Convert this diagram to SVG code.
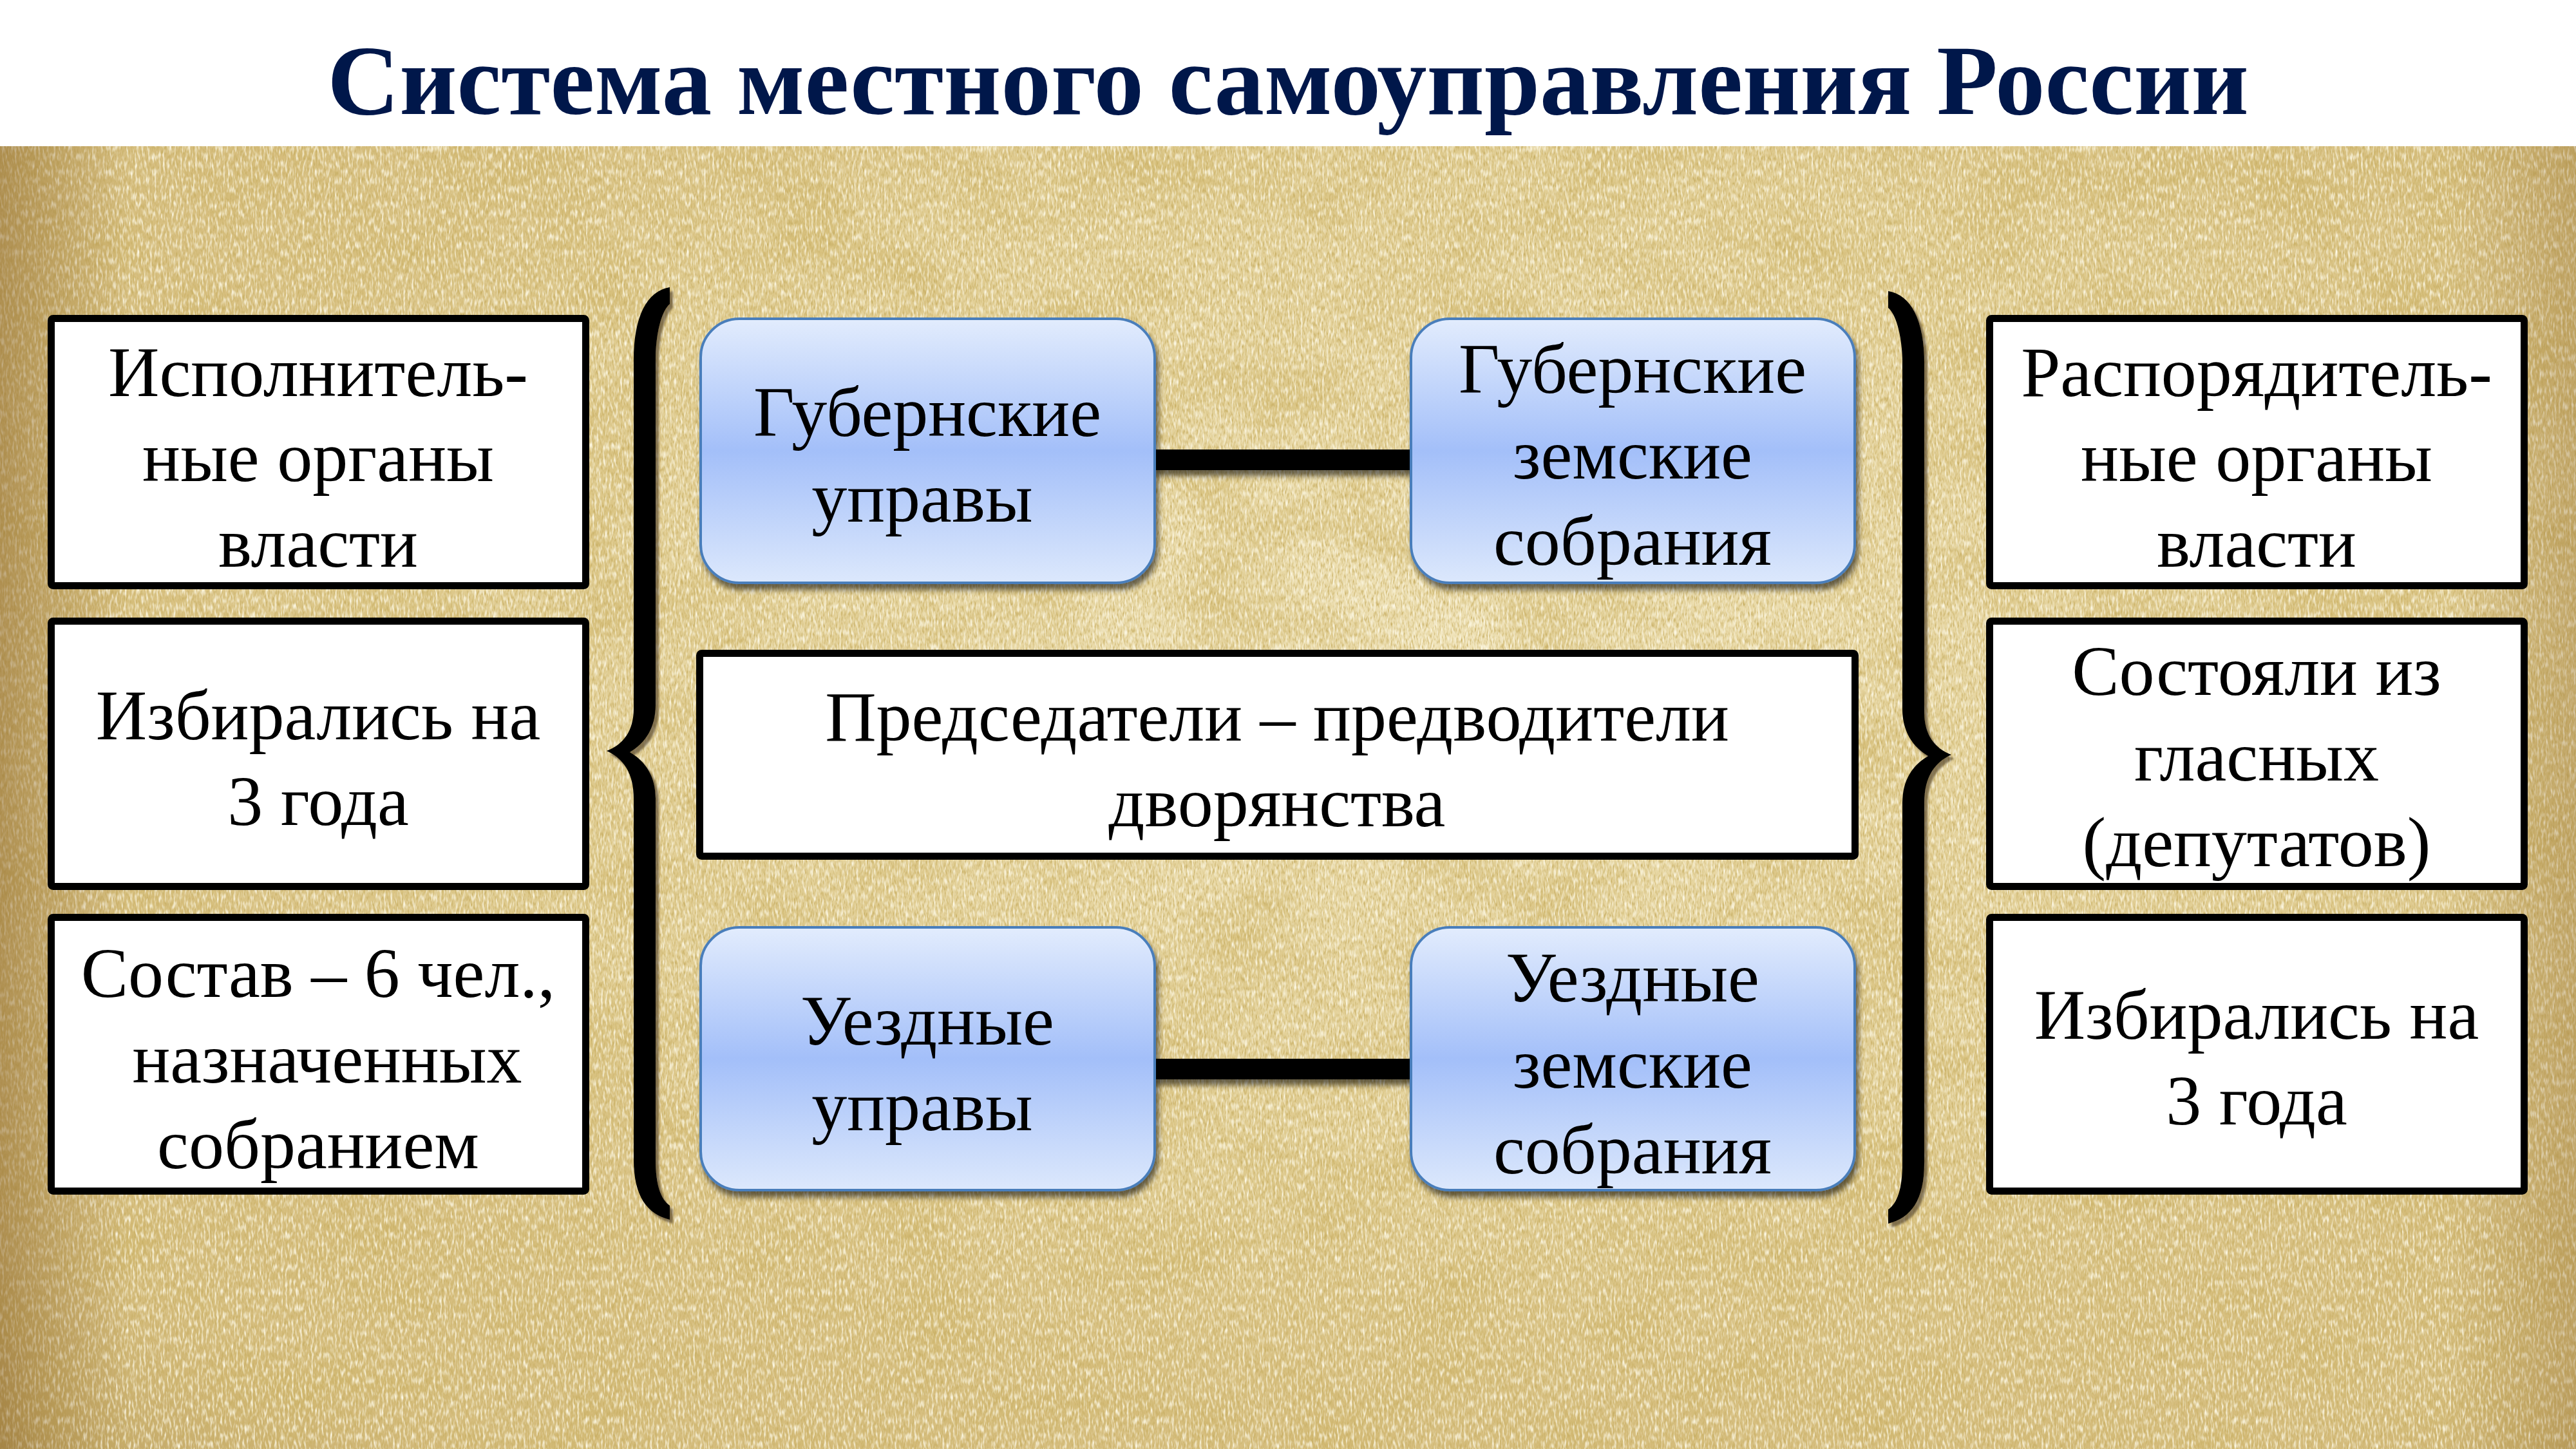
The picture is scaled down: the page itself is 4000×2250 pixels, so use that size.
<svg xmlns="http://www.w3.org/2000/svg" width="4000" height="2250" viewBox="0 0 4000 2250">
  <style>
    .t { font-family: "Liberation Serif", "Times New Roman", serif; font-size: 110px; fill: #000; text-anchor: middle; }
    .title { font-family: "Liberation Serif", "Times New Roman", serif; font-size: 155px; font-weight: bold; fill: #00174a; text-anchor: middle; }
    .wbox { fill: #ffffff; stroke: #000; stroke-width: 11; }
    .bbox { fill: url(#blueGrad); stroke: #4a7ebb; stroke-width: 4; }
    .bar { fill: #000; }
    .brace { fill: #000; }
  </style>
  <defs>
    <linearGradient id="blueGrad" x1="0" y1="0" x2="0" y2="1">
      <stop offset="0" stop-color="#e2ecfd"/>
      <stop offset="0.5" stop-color="#a3bff9"/>
      <stop offset="1" stop-color="#dce8fc"/>
    </linearGradient>
    <radialGradient id="vignette" cx="0.55" cy="0.4" r="0.8">
      <stop offset="0" stop-color="#f4e9c2" stop-opacity="0.85"/>
      <stop offset="0.5" stop-color="#ead9a2" stop-opacity="0.45"/>
      <stop offset="0.85" stop-color="#c8a55e" stop-opacity="0.15"/>
      <stop offset="1" stop-color="#9c7a38" stop-opacity="0.4"/>
    </radialGradient>
    <linearGradient id="leftEdge" x1="0" y1="0" x2="1" y2="0">
      <stop offset="0" stop-color="#8a6428" stop-opacity="0.5"/>
      <stop offset="0.05" stop-color="#8a6428" stop-opacity="0"/>
      <stop offset="0.95" stop-color="#8a6428" stop-opacity="0"/>
      <stop offset="1" stop-color="#8a6428" stop-opacity="0.3"/>
    </linearGradient>
    <filter id="blotch" x="0" y="0" width="100%" height="100%">
      <feTurbulence type="fractalNoise" baseFrequency="0.006 0.009" numOctaves="4" seed="7" result="n"/>
      <feColorMatrix in="n" type="matrix" values="0 0 0 0 0.62  0 0 0 0 0.46  0 0 0 0 0.14  1.4 0 0 0 -0.6"/>
    </filter>
    <filter id="grain" x="0" y="0" width="100%" height="100%">
      <feTurbulence type="fractalNoise" baseFrequency="0.45 0.12" numOctaves="2" seed="11" result="n"/>
      <feColorMatrix in="n" type="matrix" values="0 0 0 0 0.58  0 0 0 0 0.43  0 0 0 0 0.13  2.4 0 0 0 -1.05"/>
    </filter>
    <filter id="light" x="0" y="0" width="100%" height="100%">
      <feTurbulence type="fractalNoise" baseFrequency="0.3 0.08" numOctaves="2" seed="23" result="n"/>
      <feColorMatrix in="n" type="matrix" values="0 0 0 0 0.98  0 0 0 0 0.94  0 0 0 0 0.78  2.4 0 0 0 -1.1"/>
    </filter>
    <filter id="shadow" x="-5%" y="-5%" width="115%" height="120%">
      <feGaussianBlur in="SourceAlpha" stdDeviation="4"/>
      <feOffset dx="4" dy="9" result="b"/>
      <feFlood flood-color="#000" flood-opacity="0.55"/>
      <feComposite in2="b" operator="in"/>
      <feMerge><feMergeNode/><feMergeNode in="SourceGraphic"/></feMerge>
    </filter>
    <filter id="bshadow" x="-20%" y="-5%" width="150%" height="110%">
      <feOffset in="SourceAlpha" dx="5" dy="6" result="o"/>
      <feGaussianBlur in="o" stdDeviation="1.5" result="b"/>
      <feFlood flood-color="#5a4a30" flood-opacity="0.7"/>
      <feComposite in2="b" operator="in"/>
      <feMerge><feMergeNode/><feMergeNode in="SourceGraphic"/></feMerge>
    </filter>
    <path id="braceShape" d="M 1040,446 C 1005,452 984,490 984,560 L 984,1100 C 984,1135 968,1156 942,1166 C 968,1178 984,1200 984,1240 L 984,1800 C 984,1858 1005,1885 1040,1894 L 1040,1872 C 1026,1862 1018,1840 1018,1800 L 1018,1240 C 1018,1205 1002,1182 978,1168 C 1002,1154 1018,1130 1018,1095 L 1018,560 C 1018,522 1026,484 1040,472 Z"/>
  </defs>

  <!-- background -->
  <rect x="0" y="0" width="4000" height="2250" fill="#ffffff"/>
  <g id="parchment">
    <rect x="0" y="227" width="4000" height="2023" fill="#d8c284"/>
    <rect x="0" y="227" width="4000" height="2023" fill="url(#vignette)"/>
    <rect x="0" y="227" width="4000" height="2023" filter="url(#blotch)"/>
    <rect x="0" y="227" width="4000" height="2023" filter="url(#grain)"/>
    <rect x="0" y="227" width="4000" height="2023" filter="url(#light)"/>
    <rect x="0" y="227" width="4000" height="2023" fill="url(#leftEdge)"/>
  </g>

  <text id="title" class="title" x="2000" y="177">Система местного самоуправления России</text>

  <!-- braces -->
  <g id="braces" filter="url(#bshadow)">
    <use href="#braceShape" class="brace"/>
    <use href="#braceShape" class="brace" transform="translate(3972,6) scale(-1,1)"/>
  </g>

  <!-- connectors -->
  <g id="connectors" filter="url(#shadow)">
    <rect class="bar" x="1790" y="698" width="404" height="32"/>
    <rect class="bar" x="1790" y="1644" width="404" height="32"/>
  </g>

  <!-- left column -->
  <g id="left-exec">
    <rect class="wbox" x="79.5" y="494.5" width="830" height="415" rx="3"/>
    <text class="t" x="494" y="615">Исполнитель-</text>
    <text class="t" x="494" y="747">ные органы</text>
    <text class="t" x="494" y="880">власти</text>
  </g>
  <g id="left-elected">
    <rect class="wbox" x="79.5" y="964.5" width="830" height="412" rx="3"/>
    <text class="t" x="494" y="1148">Избирались на</text>
    <text class="t" x="494" y="1281">3 года</text>
  </g>
  <g id="left-composition">
    <rect class="wbox" x="79.5" y="1424.5" width="830" height="425" rx="3"/>
    <text class="t" x="494" y="1548">Состав – 6 чел.,</text>
    <text class="t" x="508" y="1681">назначенных</text>
    <text class="t" x="494" y="1814">собранием</text>
  </g>

  <!-- right column -->
  <g id="right-admin">
    <rect class="wbox" x="3089.5" y="494.5" width="830" height="415" rx="3"/>
    <text class="t" x="3504" y="615">Распорядитель-</text>
    <text class="t" x="3504" y="747">ные органы</text>
    <text class="t" x="3504" y="880">власти</text>
  </g>
  <g id="right-members">
    <rect class="wbox" x="3089.5" y="964.5" width="830" height="412" rx="3"/>
    <text class="t" x="3504" y="1079">Состояли из</text>
    <text class="t" x="3504" y="1212">гласных</text>
    <text class="t" x="3504" y="1345">(депутатов)</text>
  </g>
  <g id="right-elected">
    <rect class="wbox" x="3089.5" y="1424.5" width="830" height="425" rx="3"/>
    <text class="t" x="3504" y="1613">Избирались на</text>
    <text class="t" x="3504" y="1746">3 года</text>
  </g>

  <!-- center -->
  <g id="gub-uprava">
    <rect class="bbox" x="1088" y="495" width="705" height="410" rx="60" filter="url(#shadow)"/>
    <text class="t" x="1440" y="677">Губернские</text>
    <text class="t" x="1432" y="810">управы</text>
  </g>
  <g id="gub-sobranie">
    <rect class="bbox" x="2191" y="495" width="689" height="410" rx="60" filter="url(#shadow)"/>
    <text class="t" x="2535" y="610">Губернские</text>
    <text class="t" x="2535" y="743">земские</text>
    <text class="t" x="2535" y="877">собрания</text>
  </g>
  <g id="chairmen">
    <rect class="wbox" x="1086.5" y="1014.5" width="1794" height="315" rx="3"/>
    <text class="t" x="1983" y="1150">Председатели – предводители</text>
    <text class="t" x="1983" y="1283">дворянства</text>
  </g>
  <g id="uezd-uprava">
    <rect class="bbox" x="1088" y="1440" width="705" height="408" rx="60" filter="url(#shadow)"/>
    <text class="t" x="1440" y="1622">Уездные</text>
    <text class="t" x="1432" y="1755">управы</text>
  </g>
  <g id="uezd-sobranie">
    <rect class="bbox" x="2191" y="1440" width="689" height="408" rx="60" filter="url(#shadow)"/>
    <text class="t" x="2535" y="1555">Уездные</text>
    <text class="t" x="2535" y="1689">земские</text>
    <text class="t" x="2535" y="1822">собрания</text>
  </g>
</svg>
